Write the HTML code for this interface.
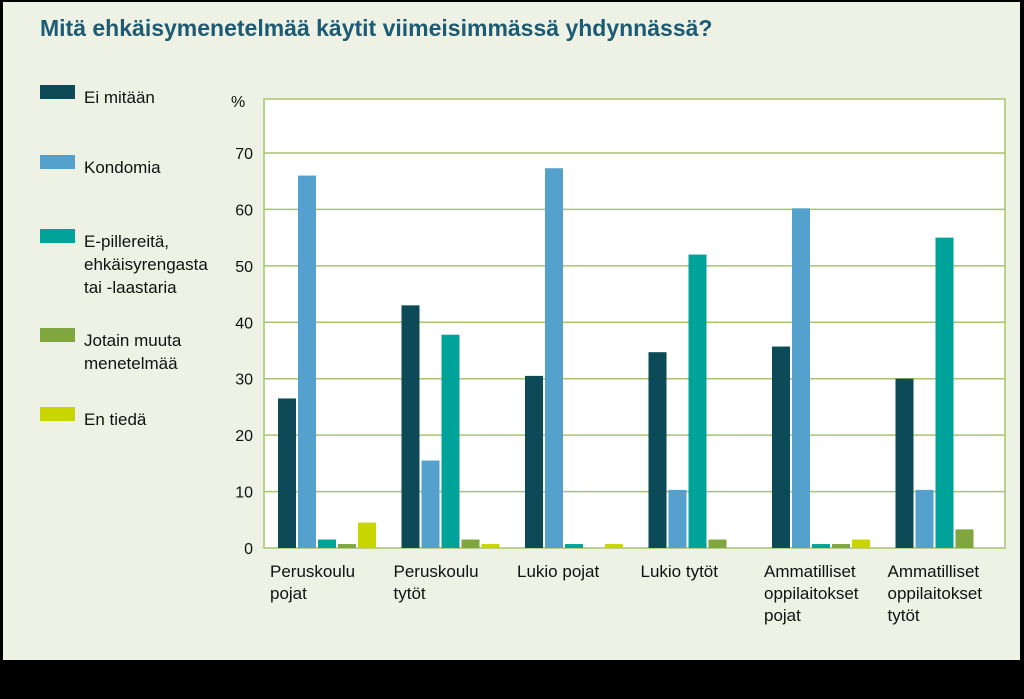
<!DOCTYPE html>
<html><head><meta charset="utf-8"><style>
body{margin:0;width:1024px;height:699px;background:#000;overflow:hidden;font-family:"Liberation Sans",sans-serif}
#panel{position:absolute;left:3px;top:2px;width:1017px;height:658px;background:#eef2e4}
</style></head><body>
<div id="panel"></div>
<svg id="c" width="1024" height="699" style="position:absolute;left:0;top:0">
<text x="40" y="36" font-size="23" font-weight="bold" fill="#1d5a73">Mitä ehkäisymenetelmää käytit viimeisimmässä yhdynnässä?</text>
<rect x="264" y="99" width="741" height="449" fill="#fff" stroke="#a8c46c" stroke-width="1.5"/>
<g id="grid"></g><g id="bars"></g><g id="legend"></g><g id="xl"></g>
</svg>
<script>
const categories=[["Peruskoulu","pojat"],["Peruskoulu","tytöt"],["Lukio pojat"],["Lukio tytöt"],["Ammatilliset","oppilaitokset","pojat"],["Ammatilliset","oppilaitokset","tytöt"]];
const seriesNames=[["Ei mitään"],["Kondomia"],["E-pillereitä,","ehkäisyrengasta","tai -laastaria"],["Jotain muuta","menetelmää"],["En tiedä"]];
const eiMitaan=[26.5,43,30.5,34.7,35.7,30];
const kondomia=[66,15.5,67.3,10.3,60.2,10.3];
const pillerit=[1.5,37.8,0.7,52,0.7,55];
const jotainMuuta=[0.7,1.5,0,1.5,0.7,3.3];
const enTieda=[4.5,0.7,0.7,0,1.5,0];
const yTicks=[0,10,20,30,40,50,60,70];
const series=[eiMitaan,kondomia,pillerit,jotainMuuta,enTieda];
const colors=["#0b4a56","#55a1cd","#00a39a","#7fa63f","#c9d500"];
const NS="http://www.w3.org/2000/svg";
const y=v=>548-v*5.643;
const gx=i=>264+i*123.5;
function mk(t,a,p){const e=document.createElementNS(NS,t);for(const k in a)e.setAttribute(k,a[k]);p.appendChild(e);return e;}
const grid=document.getElementById('grid');
yTicks.forEach(t=>{
 if(t>0){const l=mk('line',{x1:264,x2:1005,y1:y(t),y2:y(t),stroke:'#a8c46c','stroke-width':1.5},grid);
 
 }
 const tx=mk('text',{x:253,y:y(t)+6,'font-size':16,'text-anchor':'end',fill:'#111'},grid);tx.textContent=t;
 
 
});
const pc=mk('text',{x:231,y:107,'font-size':16,fill:'#111'},grid);pc.textContent='%';


const bars=document.getElementById('bars');
series.forEach((s,si)=>s.forEach((v,i)=>{
 if(v<=0)return;
 const r=mk('rect',{x:gx(i)+14+si*20,y:y(v),width:18,height:548-y(v),fill:colors[si]},bars);
 
 
}));
const lg=document.getElementById('legend');
const ly=[97,167,241,340,419];
seriesNames.forEach((n,si)=>{
 const r=mk('rect',{x:40,y:ly[si]-12,width:35,height:14,fill:colors[si]},lg);
 
 
 n.forEach((line,li)=>{const t=mk('text',{x:84,y:ly[si]+6+li*23,'font-size':17,fill:'#111'},lg);t.textContent=line;
 
 });
});
const xl=document.getElementById('xl');
categories.forEach((c,i)=>c.forEach((line,li)=>{
 const t=mk('text',{x:gx(i)+6,y:577+li*22,'font-size':17,fill:'#111'},xl);t.textContent=line;
 
 
}));
</script>
</body></html>
